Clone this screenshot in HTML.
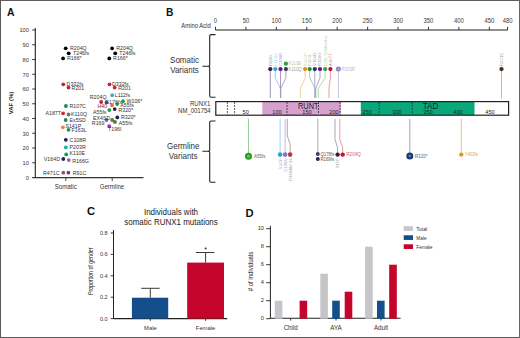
<!DOCTYPE html>
<html><head><meta charset="utf-8"><style>
html,body{margin:0;padding:0;background:#fff;}
svg{display:block;font-family:"Liberation Sans",sans-serif;}
</style></head><body>
<svg width="520" height="338" viewBox="0 0 520 338">
<rect width="520" height="338" fill="#fff"/>
<text x="7" y="15.8" font-size="10.4" text-anchor="start" fill="#111" font-weight="bold" >A</text>
<line x1="35.3" y1="28" x2="35.3" y2="177.6" stroke="#222" stroke-width="1.1" />
<line x1="32.2" y1="177.5" x2="35.3" y2="177.5" stroke="#222" stroke-width="0.9" />
<text transform="translate(28.9,179.8) scale(0.9346,1)" font-size="6.10" text-anchor="end" fill="#333" font-weight="normal" >0</text>
<line x1="32.2" y1="162.75" x2="35.3" y2="162.75" stroke="#222" stroke-width="0.9" />
<text transform="translate(28.9,165.05) scale(0.9346,1)" font-size="6.10" text-anchor="end" fill="#333" font-weight="normal" >10</text>
<line x1="32.2" y1="148.0" x2="35.3" y2="148.0" stroke="#222" stroke-width="0.9" />
<text transform="translate(28.9,150.3) scale(0.9346,1)" font-size="6.10" text-anchor="end" fill="#333" font-weight="normal" >20</text>
<line x1="32.2" y1="133.25" x2="35.3" y2="133.25" stroke="#222" stroke-width="0.9" />
<text transform="translate(28.9,135.55) scale(0.9346,1)" font-size="6.10" text-anchor="end" fill="#333" font-weight="normal" >30</text>
<line x1="32.2" y1="118.5" x2="35.3" y2="118.5" stroke="#222" stroke-width="0.9" />
<text transform="translate(28.9,120.8) scale(0.9346,1)" font-size="6.10" text-anchor="end" fill="#333" font-weight="normal" >40</text>
<line x1="32.2" y1="103.75" x2="35.3" y2="103.75" stroke="#222" stroke-width="0.9" />
<text transform="translate(28.9,106.05) scale(0.9346,1)" font-size="6.10" text-anchor="end" fill="#333" font-weight="normal" >50</text>
<line x1="32.2" y1="89.0" x2="35.3" y2="89.0" stroke="#222" stroke-width="0.9" />
<text transform="translate(28.9,91.3) scale(0.9346,1)" font-size="6.10" text-anchor="end" fill="#333" font-weight="normal" >60</text>
<line x1="32.2" y1="74.25" x2="35.3" y2="74.25" stroke="#222" stroke-width="0.9" />
<text transform="translate(28.9,76.55) scale(0.9346,1)" font-size="6.10" text-anchor="end" fill="#333" font-weight="normal" >70</text>
<line x1="32.2" y1="59.5" x2="35.3" y2="59.5" stroke="#222" stroke-width="0.9" />
<text transform="translate(28.9,61.8) scale(0.9346,1)" font-size="6.10" text-anchor="end" fill="#333" font-weight="normal" >80</text>
<line x1="32.2" y1="44.75" x2="35.3" y2="44.75" stroke="#222" stroke-width="0.9" />
<text transform="translate(28.9,47.05) scale(0.9346,1)" font-size="6.10" text-anchor="end" fill="#333" font-weight="normal" >90</text>
<line x1="32.2" y1="30.0" x2="35.3" y2="30.0" stroke="#222" stroke-width="0.9" />
<text transform="translate(28.9,32.3) scale(0.9346,1)" font-size="6.10" text-anchor="end" fill="#333" font-weight="normal" >100</text>
<line x1="32.6" y1="177.6" x2="143.5" y2="177.6" stroke="#333" stroke-width="1.3" />
<line x1="65.8" y1="177.6" x2="65.8" y2="181" stroke="#333" stroke-width="0.9" />
<line x1="112.2" y1="177.6" x2="112.2" y2="181" stroke="#333" stroke-width="0.9" />
<text transform="translate(65.7,189.4) scale(0.9346,1)" font-size="6.53" text-anchor="middle" fill="#333" font-weight="normal" >Somatic</text>
<text transform="translate(112,189.4) scale(0.9346,1)" font-size="6.42" text-anchor="middle" fill="#333" font-weight="normal" >Germline</text>
<text transform="translate(13.4,103) rotate(-90)" font-size="6" font-weight="bold" text-anchor="middle" fill="#222">VAF (%)</text>
<circle cx="65.7" cy="48.3" r="1.9" fill="#000" />
<circle cx="68.7" cy="53.3" r="1.9" fill="#000" />
<circle cx="63.1" cy="58.4" r="1.9" fill="#000" />
<circle cx="63.3" cy="84.3" r="1.9" fill="#c4203c" />
<circle cx="68.5" cy="87.6" r="1.9" fill="#c4203c" />
<circle cx="65.9" cy="106" r="1.9" fill="#1a8a5a" />
<circle cx="63.1" cy="113.3" r="1.9" fill="#d02830" />
<circle cx="68.5" cy="114.5" r="1.9" fill="#707078" />
<circle cx="65.7" cy="120" r="1.9" fill="#1a8a4a" />
<circle cx="62.9" cy="127.3" r="1.9" fill="#e0804a" />
<circle cx="68.5" cy="129.8" r="1.9" fill="#1a9a4a" />
<circle cx="65.8" cy="139.8" r="1.9" fill="#2a1a5a" />
<circle cx="65.8" cy="147.4" r="1.9" fill="#20b0b0" />
<circle cx="66.2" cy="154.4" r="1.9" fill="#1a9a3a" />
<circle cx="63.3" cy="159" r="1.9" fill="#2a2060" />
<circle cx="68.8" cy="160.1" r="1.9" fill="#8a6aa0" />
<circle cx="63.3" cy="172.7" r="1.9" fill="#806060" />
<circle cx="68.4" cy="172.7" r="1.9" fill="#704080" />
<circle cx="112.1" cy="48.3" r="1.9" fill="#000" />
<circle cx="115.2" cy="53.3" r="1.9" fill="#000" />
<circle cx="109.3" cy="58.4" r="1.9" fill="#000" />
<circle cx="109.5" cy="84.3" r="1.9" fill="#c4203c" />
<circle cx="114.7" cy="87.6" r="1.9" fill="#c4203c" />
<circle cx="112.2" cy="95.2" r="1.9" fill="#30b0c0" />
<circle cx="101.2" cy="102" r="1.9" fill="#c4203c" />
<circle cx="106.5" cy="102.4" r="1.9" fill="#505068" />
<circle cx="123" cy="101.2" r="1.9" fill="#1a9a5a" />
<circle cx="117.2" cy="104.1" r="1.9" fill="#1a9a4a" />
<circle cx="112" cy="105.2" r="1.9" fill="#e0704a" />
<circle cx="114.7" cy="109.1" r="1.9" fill="#2a1a5a" />
<circle cx="109.3" cy="110.1" r="1.9" fill="#1a9a4a" />
<circle cx="117.3" cy="117.4" r="1.9" fill="#2a1a5a" />
<circle cx="106.5" cy="120" r="1.9" fill="#707078" />
<circle cx="112.2" cy="120" r="1.9" fill="#7a6a3a" />
<circle cx="114.9" cy="121.9" r="1.9" fill="#2a8a3a" />
<circle cx="109.2" cy="126.2" r="1.9" fill="#9a3a9a" />
<text transform="translate(70,50.199999999999996) scale(0.9346,1)" font-size="5.67" text-anchor="start" fill="#333" font-weight="normal" >R204Q</text>
<text transform="translate(73,55.199999999999996) scale(0.9346,1)" font-size="5.67" text-anchor="start" fill="#333" font-weight="normal" >T246fs</text>
<text transform="translate(67,60.3) scale(0.9346,1)" font-size="5.67" text-anchor="start" fill="#333" font-weight="normal" >R166*</text>
<text transform="translate(66.6,86.2) scale(0.9346,1)" font-size="5.67" text-anchor="start" fill="#333" font-weight="normal" >D332fs</text>
<text transform="translate(71.6,89.5) scale(0.9346,1)" font-size="5.67" text-anchor="start" fill="#333" font-weight="normal" >R201</text>
<text transform="translate(69.5,107.9) scale(0.9346,1)" font-size="5.67" text-anchor="start" fill="#333" font-weight="normal" >R107C</text>
<text transform="translate(61,115.2) scale(0.9346,1)" font-size="5.67" text-anchor="end" fill="#333" font-weight="normal" >A187T</text>
<text transform="translate(71,116.4) scale(0.9346,1)" font-size="5.67" text-anchor="start" fill="#333" font-weight="normal" >K110Q</text>
<text transform="translate(69.5,121.9) scale(0.9346,1)" font-size="5.67" text-anchor="start" fill="#333" font-weight="normal" >Ex5SD</text>
<text transform="translate(65.4,127.6) scale(0.9346,1)" font-size="5.67" text-anchor="start" fill="#333" font-weight="normal" >S141P</text>
<text transform="translate(71.6,131.70000000000002) scale(0.9346,1)" font-size="5.67" text-anchor="start" fill="#333" font-weight="normal" >F163L</text>
<text transform="translate(69.6,141.70000000000002) scale(0.9346,1)" font-size="5.67" text-anchor="start" fill="#333" font-weight="normal" >C108R</text>
<text transform="translate(69.6,149.3) scale(0.9346,1)" font-size="5.67" text-anchor="start" fill="#333" font-weight="normal" >P203R</text>
<text transform="translate(69.6,154.70000000000002) scale(0.9346,1)" font-size="5.67" text-anchor="start" fill="#333" font-weight="normal" >K110E</text>
<text transform="translate(60,160.9) scale(0.9346,1)" font-size="5.67" text-anchor="end" fill="#333" font-weight="normal" >V164D</text>
<text transform="translate(72.2,163.4) scale(0.9346,1)" font-size="5.67" text-anchor="start" fill="#333" font-weight="normal" >R166G</text>
<text transform="translate(59.5,174.6) scale(0.9346,1)" font-size="5.67" text-anchor="end" fill="#333" font-weight="normal" >R471C</text>
<text transform="translate(72.8,174.6) scale(0.9346,1)" font-size="5.67" text-anchor="start" fill="#333" font-weight="normal" >R91C</text>
<text transform="translate(116.2,50.199999999999996) scale(0.9346,1)" font-size="5.67" text-anchor="start" fill="#333" font-weight="normal" >R204Q</text>
<text transform="translate(119.3,55.199999999999996) scale(0.9346,1)" font-size="5.67" text-anchor="start" fill="#333" font-weight="normal" >T246fs</text>
<text transform="translate(113.1,60.3) scale(0.9346,1)" font-size="5.67" text-anchor="start" fill="#333" font-weight="normal" >R166*</text>
<text transform="translate(112,86.2) scale(0.9346,1)" font-size="5.67" text-anchor="start" fill="#333" font-weight="normal" >D332fs</text>
<text transform="translate(118.3,89.5) scale(0.9346,1)" font-size="5.67" text-anchor="start" fill="#333" font-weight="normal" >R201</text>
<text transform="translate(114.7,97.10000000000001) scale(0.9346,1)" font-size="5.67" text-anchor="start" fill="#333" font-weight="normal" >L112fs</text>
<text transform="translate(126.5,103.10000000000001) scale(0.9346,1)" font-size="5.67" text-anchor="start" fill="#333" font-weight="normal" >W106*</text>
<text transform="translate(120.3,107.39999999999999) scale(0.9346,1)" font-size="5.67" text-anchor="start" fill="#333" font-weight="normal" >A55fs</text>
<text transform="translate(118.4,112.39999999999999) scale(0.9346,1)" font-size="5.67" text-anchor="start" fill="#333" font-weight="normal" >R320*</text>
<text transform="translate(121,119.30000000000001) scale(0.9346,1)" font-size="5.67" text-anchor="start" fill="#333" font-weight="normal" >R320*</text>
<text transform="translate(118.8,125.2) scale(0.9346,1)" font-size="5.67" text-anchor="start" fill="#333" font-weight="normal" >A55fs</text>
<text transform="translate(106.5,99) scale(0.9346,1)" font-size="5.67" text-anchor="end" fill="#333" font-weight="normal" >R204Q</text>
<text transform="translate(105,103.6) scale(0.9346,1)" font-size="5.67" text-anchor="start" fill="#4a3a6a" font-weight="normal" >G178fs</text>
<text transform="translate(97.4,108) scale(0.9346,1)" font-size="5.67" text-anchor="start" fill="#7a2a4a" font-weight="normal" >H40</text>
<text transform="translate(106.5,113.6) scale(0.9346,1)" font-size="5.67" text-anchor="end" fill="#333" font-weight="normal" >A55fs</text>
<text transform="translate(110.3,119.5) scale(0.9346,1)" font-size="5.67" text-anchor="end" fill="#333" font-weight="normal" >EX4SD</text>
<text transform="translate(104.5,124.5) scale(0.9346,1)" font-size="5.67" text-anchor="end" fill="#333" font-weight="normal" >R169</text>
<text transform="translate(108,131.4) scale(0.9346,1)" font-size="5.67" text-anchor="start" fill="#333" font-weight="normal" >T196I</text>
<text x="166" y="16" font-size="10.2" text-anchor="start" fill="#111" font-weight="bold" >B</text>
<text transform="translate(210.8,27.6) scale(0.9346,1)" font-size="6.31" text-anchor="end" fill="#333" font-weight="normal" >Amino Acid</text>
<line x1="215.5" y1="30" x2="507.8" y2="30" stroke="#222" stroke-width="1.1" />
<line x1="215.5" y1="26.8" x2="215.5" y2="30" stroke="#222" stroke-width="0.9" />
<text transform="translate(215.5,22.8) scale(0.9346,1)" font-size="6.31" text-anchor="middle" fill="#3a3a3a" font-weight="normal" >0</text>
<line x1="245.925" y1="26.8" x2="245.925" y2="30" stroke="#222" stroke-width="0.9" />
<text transform="translate(245.925,22.8) scale(0.9346,1)" font-size="6.31" text-anchor="middle" fill="#3a3a3a" font-weight="normal" >50</text>
<line x1="276.35" y1="26.8" x2="276.35" y2="30" stroke="#222" stroke-width="0.9" />
<text transform="translate(276.35,22.8) scale(0.9346,1)" font-size="6.31" text-anchor="middle" fill="#3a3a3a" font-weight="normal" >100</text>
<line x1="306.775" y1="26.8" x2="306.775" y2="30" stroke="#222" stroke-width="0.9" />
<text transform="translate(306.775,22.8) scale(0.9346,1)" font-size="6.31" text-anchor="middle" fill="#3a3a3a" font-weight="normal" >150</text>
<line x1="337.2" y1="26.8" x2="337.2" y2="30" stroke="#222" stroke-width="0.9" />
<text transform="translate(337.2,22.8) scale(0.9346,1)" font-size="6.31" text-anchor="middle" fill="#3a3a3a" font-weight="normal" >200</text>
<line x1="367.625" y1="26.8" x2="367.625" y2="30" stroke="#222" stroke-width="0.9" />
<text transform="translate(367.625,22.8) scale(0.9346,1)" font-size="6.31" text-anchor="middle" fill="#3a3a3a" font-weight="normal" >250</text>
<line x1="398.05" y1="26.8" x2="398.05" y2="30" stroke="#222" stroke-width="0.9" />
<text transform="translate(398.05,22.8) scale(0.9346,1)" font-size="6.31" text-anchor="middle" fill="#3a3a3a" font-weight="normal" >300</text>
<line x1="428.475" y1="26.8" x2="428.475" y2="30" stroke="#222" stroke-width="0.9" />
<text transform="translate(428.475,22.8) scale(0.9346,1)" font-size="6.31" text-anchor="middle" fill="#3a3a3a" font-weight="normal" >350</text>
<line x1="458.9" y1="26.8" x2="458.9" y2="30" stroke="#222" stroke-width="0.9" />
<text transform="translate(458.9,22.8) scale(0.9346,1)" font-size="6.31" text-anchor="middle" fill="#3a3a3a" font-weight="normal" >400</text>
<line x1="489.32500000000005" y1="26.8" x2="489.32500000000005" y2="30" stroke="#222" stroke-width="0.9" />
<text transform="translate(489.32500000000005,22.8) scale(0.9346,1)" font-size="6.31" text-anchor="middle" fill="#3a3a3a" font-weight="normal" >450</text>
<line x1="507.58000000000004" y1="26.8" x2="507.58000000000004" y2="30" stroke="#222" stroke-width="0.9" />
<text transform="translate(507.58000000000004,22.8) scale(0.9346,1)" font-size="6.31" text-anchor="middle" fill="#3a3a3a" font-weight="normal" >480</text>
<path d="M215.5,34.6 H211.2 Q209.7,34.6 209.7,36.1 V65.2 Q209.7,66.2 208.2,66.2 H202.4 M208.2,66.2 Q209.7,66.2 209.7,67.2 V95.8 Q209.7,97.3 211.2,97.3 H215.5" fill="none" stroke="#222" stroke-width="1.1"/>
<path d="M215.5,121 H211.2 Q209.7,121 209.7,122.5 V150.3 Q209.7,151.3 208.2,151.3 H202.4 M208.2,151.3 Q209.7,151.3 209.7,152.3 V180.8 Q209.7,182.3 211.2,182.3 H215.5" fill="none" stroke="#222" stroke-width="1.1"/>
<text transform="translate(184.5,63.3) scale(0.9346,1)" font-size="8.56" text-anchor="middle" fill="#333" font-weight="normal" >Somatic</text>
<text transform="translate(184.5,73.0) scale(0.9346,1)" font-size="8.56" text-anchor="middle" fill="#333" font-weight="normal" >Variants</text>
<text transform="translate(183.2,149) scale(0.9346,1)" font-size="8.56" text-anchor="middle" fill="#333" font-weight="normal" >Germline</text>
<text transform="translate(183.2,159.1) scale(0.9346,1)" font-size="8.56" text-anchor="middle" fill="#333" font-weight="normal" >Variants</text>
<text transform="translate(210.3,105.8) scale(0.9346,1)" font-size="6.42" text-anchor="end" fill="#333" font-weight="normal" >RUNX1</text>
<text transform="translate(210.7,113.2) scale(0.9346,1)" font-size="6.42" text-anchor="end" fill="#333" font-weight="normal" >NM_001754</text>
<rect x="262.3" y="101.6" width="78.5" height="13.6" fill="#d6a1cf" />
<rect x="360.8" y="101.6" width="113.7" height="13.6" fill="#08a87b" />
<rect x="215.8" y="101.6" width="292.8" height="13.6" fill="none" stroke="#222" stroke-width="1.2"/>
<text transform="translate(245.7,114.2) scale(0.9346,1)" font-size="5.99" text-anchor="middle" fill="#222" font-weight="normal" >50</text>
<text transform="translate(277,114.2) scale(0.9346,1)" font-size="5.99" text-anchor="middle" fill="#222" font-weight="normal" >100</text>
<text transform="translate(307,114.2) scale(0.9346,1)" font-size="5.99" text-anchor="middle" fill="#222" font-weight="normal" >150</text>
<text transform="translate(334,114.2) scale(0.9346,1)" font-size="5.99" text-anchor="middle" fill="#222" font-weight="normal" >200</text>
<text transform="translate(367,114.2) scale(0.9346,1)" font-size="5.99" text-anchor="middle" fill="#222" font-weight="normal" >250</text>
<text transform="translate(397,114.2) scale(0.9346,1)" font-size="5.99" text-anchor="middle" fill="#222" font-weight="normal" >300</text>
<text transform="translate(428,114.2) scale(0.9346,1)" font-size="5.99" text-anchor="middle" fill="#222" font-weight="normal" >350</text>
<text transform="translate(458,114.2) scale(0.9346,1)" font-size="5.99" text-anchor="middle" fill="#222" font-weight="normal" >400</text>
<text transform="translate(490,114.2) scale(0.9346,1)" font-size="5.99" text-anchor="middle" fill="#222" font-weight="normal" >450</text>
<text transform="translate(298,108.7) scale(0.9346,1)" font-size="8.77" text-anchor="start" fill="#221a2a" font-weight="normal" textLength="22" lengthAdjust="spacingAndGlyphs">RUNT</text>
<text transform="translate(422.7,108.7) scale(0.9346,1)" font-size="8.77" text-anchor="start" fill="#112a22" font-weight="normal" >TAD</text>
<rect x="317.6" y="102.3" width="2.0" height="12.4" fill="#d6a1cf" />
<line x1="227.4" y1="102.2" x2="227.4" y2="114.6" stroke="#222" stroke-width="0.9" stroke-dasharray="1.6,1.4"/>
<line x1="234.6" y1="102.2" x2="234.6" y2="114.6" stroke="#222" stroke-width="0.9" stroke-dasharray="1.6,1.4"/>
<line x1="287" y1="102.2" x2="287" y2="114.6" stroke="#222" stroke-width="0.9" stroke-dasharray="1.6,1.4"/>
<line x1="318.5" y1="102.2" x2="318.5" y2="114.6" stroke="#222" stroke-width="0.9" stroke-dasharray="1.6,1.4"/>
<line x1="340" y1="102.2" x2="340" y2="114.6" stroke="#222" stroke-width="0.9" stroke-dasharray="1.6,1.4"/>
<line x1="379.2" y1="102.2" x2="379.2" y2="114.6" stroke="#222" stroke-width="0.9" stroke-dasharray="1.6,1.4"/>
<line x1="412.2" y1="102.2" x2="412.2" y2="114.6" stroke="#222" stroke-width="0.9" stroke-dasharray="1.6,1.4"/>
<polyline points="270.3,69.1 270.3,98" fill="none" stroke="#9a88b0" stroke-width="0.9"/>
<polyline points="275.3,69.1 275.3,77.8 280.4,88.4 280.4,98" fill="none" stroke="#9ac0e0" stroke-width="0.9"/>
<polyline points="280.5,69.1 280.5,98" fill="none" stroke="#a890c0" stroke-width="0.9"/>
<polyline points="285.9,69.1 285.9,77.8 280.8,88.4 280.8,98" fill="none" stroke="#9aa0b0" stroke-width="0.9"/>
<polyline points="305.1,69.1 305.1,78.5 300.3,88.3 300.3,98" fill="none" stroke="#f0c890" stroke-width="0.9"/>
<polyline points="309.7,69.1 309.7,78 315.2,88.3 315.2,98" fill="none" stroke="#a0c8a0" stroke-width="0.9"/>
<polyline points="314.8,69.1 314.8,98" fill="none" stroke="#90a8c8" stroke-width="0.9"/>
<polyline points="320,69.1 320,78 315.8,88.3 315.8,98" fill="none" stroke="#b098c8" stroke-width="0.9"/>
<polyline points="325.2,69.1 325.2,78 318.3,88.3 318.3,98" fill="none" stroke="#a8d8a0" stroke-width="0.9"/>
<polyline points="330.4,69.1 330.4,78 329,88.3 329,98" fill="none" stroke="#e89098" stroke-width="0.9"/>
<polyline points="338.4,69.1 338.4,98" fill="none" stroke="#b8b8d8" stroke-width="0.9"/>
<polyline points="501.5,69.1 501.5,98.5" fill="none" stroke="#c0b0a0" stroke-width="0.9"/>
<circle cx="270.3" cy="69.1" r="2.15" fill="#3a1a4a" />
<text transform="translate(271.7,65.89999999999999) rotate(-90)" font-size="4.3" fill="#3a1a4a" fill-opacity="0.55">R80C</text>
<circle cx="275.3" cy="69.1" r="2.15" fill="#30a8e0" />
<text transform="translate(276.7,65.89999999999999) rotate(-90)" font-size="4.3" fill="#30a8e0" fill-opacity="0.55">L112fs</text>
<circle cx="280.5" cy="69.1" r="2.15" fill="#5a1a8a" />
<text transform="translate(281.9,65.89999999999999) rotate(-90)" font-size="4.3" fill="#5a1a8a" fill-opacity="0.55">C108R</text>
<circle cx="285.9" cy="69.1" r="2.15" fill="#3a4050" />
<circle cx="305.1" cy="69.1" r="2.15" fill="#e09020" />
<text transform="translate(306.5,65.89999999999999) rotate(-90)" font-size="4.3" fill="#e09020" fill-opacity="0.55">S141P</text>
<circle cx="309.7" cy="69.1" r="2.15" fill="#3a8a30" />
<text transform="translate(311.09999999999997,65.89999999999999) rotate(-90)" font-size="4.3" fill="#3a8a30" fill-opacity="0.55">F163L</text>
<circle cx="314.8" cy="69.1" r="2.15" fill="#1a3a70" />
<text transform="translate(316.2,65.89999999999999) rotate(-90)" font-size="4.3" fill="#1a3a70" fill-opacity="0.55">V164D</text>
<circle cx="320" cy="69.1" r="2.15" fill="#5a2080" />
<text transform="translate(321.4,65.89999999999999) rotate(-90)" font-size="4.3" fill="#5a2080" fill-opacity="0.55">R166G</text>
<circle cx="325.2" cy="69.1" r="2.15" fill="#3aa040" />
<text transform="translate(326.59999999999997,65.89999999999999) rotate(-90)" font-size="4.3" fill="#3aa040" fill-opacity="0.55" textLength="30.5" lengthAdjust="spacingAndGlyphs">L200_S294del4aa</text>
<circle cx="330.4" cy="69.1" r="2.15" fill="#c01030" />
<text transform="translate(331.79999999999995,65.89999999999999) rotate(-90)" font-size="4.3" fill="#c01030" fill-opacity="0.55">A187T</text>
<circle cx="338.4" cy="69.1" r="2.15" fill="#8a8ab8" />
<circle cx="501.5" cy="69.1" r="2.15" fill="#4a2a10" />
<text transform="translate(502.9,65.89999999999999) rotate(-90)" font-size="4.3" fill="#4a2a10" fill-opacity="0.55">R471C</text>
<circle cx="285.9" cy="63.7" r="2.15" fill="#30a040" />
<text transform="translate(288.6,65.3) scale(0.9346,1)" font-size="4.60" text-anchor="start" fill="#a8d0a8" font-weight="normal" >K110E</text>
<text transform="translate(288.6,70.7) scale(0.9346,1)" font-size="4.60" text-anchor="start" fill="#a0a0b0" font-weight="normal" >K110Q</text>
<text transform="translate(341.8,70.7) scale(0.9346,1)" font-size="4.60" text-anchor="start" fill="#b8b8d8" font-weight="normal" >P203R</text>
<polyline points="248.5,118.8 248.5,156.2" fill="none" stroke="#8ac88a" stroke-width="0.9"/>
<polyline points="280.1,118.8 280.1,154.6" fill="none" stroke="#9ac8e8" stroke-width="0.9"/>
<polyline points="285.1,118.8 285.1,154.6" fill="none" stroke="#c0b0e0" stroke-width="0.9"/>
<polyline points="287.3,118.8 287.3,136 290.1,143.8 290.1,154.6" fill="none" stroke="#c89098" stroke-width="0.9"/>
<polyline points="317.8,118.8 317.8,153.9" fill="none" stroke="#a0a0b8" stroke-width="0.9"/>
<polyline points="335,118.8 335,139.5 337.6,147.7 337.6,154.6" fill="none" stroke="#a898b0" stroke-width="0.9"/>
<polyline points="339.8,118.8 339.8,139.5 342.7,147.7 342.7,154.6" fill="none" stroke="#e89098" stroke-width="0.9"/>
<polyline points="409.8,118.8 409.8,155.9" fill="none" stroke="#90a0b8" stroke-width="0.9"/>
<polyline points="461.3,118.8 461.3,154.5" fill="none" stroke="#e8c070" stroke-width="0.9"/>
<circle cx="248.5" cy="156.2" r="3.5" fill="#259a25" />
<circle cx="280.1" cy="154.6" r="2.3" fill="#30a0d0" />
<circle cx="285.1" cy="154.6" r="2.3" fill="#9070c0" />
<circle cx="290.1" cy="154.6" r="2.3" fill="#a04050" />
<circle cx="317.8" cy="153.9" r="2.0" fill="#404060" />
<circle cx="337.6" cy="154.6" r="2.2" fill="#3a1a4a" />
<circle cx="342.7" cy="154.6" r="2.2" fill="#c81030" />
<circle cx="409.8" cy="155.9" r="3.5" fill="#1a3a70" />
<circle cx="461.3" cy="154.6" r="2.2" fill="#d8982a" />
<circle cx="317.8" cy="159.1" r="2.0" fill="#3a1a5a" />
<circle cx="338.4" cy="69.1" r="2.5" fill="#8a8ab8" />
<circle cx="338.4" cy="69.1" r="1.2" fill="#a8a8d0" />
<circle cx="248.5" cy="156.2" r="1.7" fill="#55c055" />
<circle cx="409.8" cy="155.9" r="1.2" fill="#6080b0" />
<text transform="translate(253.9,157.9) scale(0.9346,1)" font-size="4.82" text-anchor="start" fill="#5a6a5a" font-weight="normal" >A55fs</text>
<text transform="translate(320.5,155.5) scale(0.9346,1)" font-size="4.60" text-anchor="start" fill="#555" font-weight="normal" >Q178fs</text>
<text transform="translate(320.5,160.7) scale(0.9346,1)" font-size="4.60" text-anchor="start" fill="#555" font-weight="normal" >R169fs</text>
<text transform="translate(346.3,156.3) scale(0.9346,1)" font-size="4.92" text-anchor="start" fill="#d06070" font-weight="normal" >R204Q</text>
<text transform="translate(414.8,157.6) scale(0.9346,1)" font-size="4.92" text-anchor="start" fill="#5a6a8a" font-weight="normal" >R320*</text>
<text transform="translate(464.6,156.2) scale(0.9346,1)" font-size="4.60" text-anchor="start" fill="#d8a850" font-weight="normal" >Y403fs</text>
<text transform="translate(281.5,158.3) rotate(-90)" font-size="4.3" text-anchor="end" fill="#98b0c8" textLength="11" lengthAdjust="spacingAndGlyphs">S141P</text>
<text transform="translate(286.5,158.3) rotate(-90)" font-size="4.3" text-anchor="end" fill="#b0a8c8" textLength="13.5" lengthAdjust="spacingAndGlyphs">C108fs</text>
<text transform="translate(291.5,158.3) rotate(-90)" font-size="4.3" text-anchor="end" fill="#c09898" textLength="22.5" lengthAdjust="spacingAndGlyphs">R166Afs*13</text>
<text transform="translate(339.0,158.3) rotate(-90)" font-size="4.3" text-anchor="end" fill="#a090a8" textLength="9.5" lengthAdjust="spacingAndGlyphs">R177*</text>
<text x="86.9" y="214.9" font-size="11.2" text-anchor="start" fill="#111" font-weight="bold" >C</text>
<text transform="translate(171,215.2) scale(0.9346,1)" font-size="8.56" text-anchor="middle" fill="#222" font-weight="normal" >Individuals with</text>
<text transform="translate(171,225.2) scale(0.9346,1)" font-size="8.56" text-anchor="middle" fill="#222" font-weight="normal" >somatic RUNX1 mutations</text>
<line x1="113.5" y1="230.1" x2="113.5" y2="318.6" stroke="#222" stroke-width="1.0" />
<line x1="110.7" y1="318.6" x2="113.5" y2="318.6" stroke="#222" stroke-width="0.9" />
<text transform="translate(107.6,320.5) scale(0.9346,1)" font-size="5.89" text-anchor="end" fill="#333" font-weight="normal" >0.0</text>
<line x1="110.7" y1="297.20000000000005" x2="113.5" y2="297.20000000000005" stroke="#222" stroke-width="0.9" />
<text transform="translate(107.6,299.1) scale(0.9346,1)" font-size="5.89" text-anchor="end" fill="#333" font-weight="normal" >0.2</text>
<line x1="110.7" y1="275.8" x2="113.5" y2="275.8" stroke="#222" stroke-width="0.9" />
<text transform="translate(107.6,277.7) scale(0.9346,1)" font-size="5.89" text-anchor="end" fill="#333" font-weight="normal" >0.4</text>
<line x1="110.7" y1="254.40000000000003" x2="113.5" y2="254.40000000000003" stroke="#222" stroke-width="0.9" />
<text transform="translate(107.6,256.3) scale(0.9346,1)" font-size="5.89" text-anchor="end" fill="#333" font-weight="normal" >0.6</text>
<line x1="110.7" y1="233.0" x2="113.5" y2="233.0" stroke="#222" stroke-width="0.9" />
<text transform="translate(107.6,234.9) scale(0.9346,1)" font-size="5.89" text-anchor="end" fill="#333" font-weight="normal" >0.8</text>
<line x1="113.5" y1="318.6" x2="227.2" y2="318.6" stroke="#222" stroke-width="1.1" />
<rect x="131.9" y="297.7" width="36.3" height="20.9" fill="#134f8a" />
<rect x="187.2" y="262.6" width="36.8" height="56" fill="#c4042a" />
<line x1="150.3" y1="297.7" x2="150.3" y2="288.3" stroke="#3a3a3a" stroke-width="1" />
<line x1="141.2" y1="288.3" x2="159.6" y2="288.3" stroke="#3a3a3a" stroke-width="1" />
<line x1="205.6" y1="262.6" x2="205.6" y2="252.5" stroke="#3a3a3a" stroke-width="1" />
<line x1="195.8" y1="252.5" x2="214.4" y2="252.5" stroke="#3a3a3a" stroke-width="1" />
<text transform="translate(205.5,251.6) scale(0.9346,1)" font-size="7.49" text-anchor="middle" fill="#111" font-weight="normal" >*</text>
<line x1="150.3" y1="318.6" x2="150.3" y2="320.8" stroke="#222" stroke-width="0.9" />
<line x1="205.6" y1="318.6" x2="205.6" y2="320.8" stroke="#222" stroke-width="0.9" />
<text transform="translate(150.4,330) scale(0.9346,1)" font-size="6.21" text-anchor="middle" fill="#333" font-weight="normal" >Male</text>
<text transform="translate(205.5,330) scale(0.9346,1)" font-size="6.21" text-anchor="middle" fill="#333" font-weight="normal" >Female</text>
<text transform="translate(92.6,271.3) rotate(-90)" font-size="6.4" text-anchor="middle" fill="#222" textLength="47.5" lengthAdjust="spacingAndGlyphs">Proportion of gender</text>
<text x="245.6" y="216.9" font-size="11.2" text-anchor="start" fill="#111" font-weight="bold" >D</text>
<line x1="270.4" y1="225.8" x2="270.4" y2="318.7" stroke="#222" stroke-width="1.0" />
<line x1="266.2" y1="318.7" x2="270.4" y2="318.7" stroke="#222" stroke-width="0.9" />
<text transform="translate(264,320.09999999999997) scale(0.9346,1)" font-size="6.10" text-anchor="end" fill="#333" font-weight="normal" >0</text>
<line x1="266.2" y1="300.7" x2="270.4" y2="300.7" stroke="#222" stroke-width="0.9" />
<text transform="translate(264,302.09999999999997) scale(0.9346,1)" font-size="6.10" text-anchor="end" fill="#333" font-weight="normal" >2</text>
<line x1="266.2" y1="282.7" x2="270.4" y2="282.7" stroke="#222" stroke-width="0.9" />
<text transform="translate(264,284.09999999999997) scale(0.9346,1)" font-size="6.10" text-anchor="end" fill="#333" font-weight="normal" >4</text>
<line x1="266.2" y1="264.7" x2="270.4" y2="264.7" stroke="#222" stroke-width="0.9" />
<text transform="translate(264,266.09999999999997) scale(0.9346,1)" font-size="6.10" text-anchor="end" fill="#333" font-weight="normal" >6</text>
<line x1="266.2" y1="246.7" x2="270.4" y2="246.7" stroke="#222" stroke-width="0.9" />
<text transform="translate(264,248.1) scale(0.9346,1)" font-size="6.10" text-anchor="end" fill="#333" font-weight="normal" >8</text>
<line x1="266.2" y1="228.7" x2="270.4" y2="228.7" stroke="#222" stroke-width="0.9" />
<text transform="translate(264,230.1) scale(0.9346,1)" font-size="6.10" text-anchor="end" fill="#333" font-weight="normal" >10</text>
<line x1="270.4" y1="318.3" x2="400.6" y2="318.3" stroke="#222" stroke-width="1.1" />
<rect x="274.8" y="300.7" width="7.6" height="18.0" fill="#c6c6ca" />
<rect x="299.6" y="300.7" width="7.6" height="18.0" fill="#c4042a" />
<rect x="320.3" y="273.7" width="7.6" height="45.0" fill="#c6c6ca" />
<rect x="332.2" y="300.7" width="7.6" height="18.0" fill="#134f8a" />
<rect x="344.7" y="291.7" width="7.6" height="27.0" fill="#c4042a" />
<rect x="365.1" y="246.7" width="7.6" height="72.0" fill="#c6c6ca" />
<rect x="377" y="300.7" width="7.6" height="18.0" fill="#134f8a" />
<rect x="389.2" y="264.7" width="7.6" height="54.0" fill="#c4042a" />
<line x1="290.7" y1="318.3" x2="290.7" y2="320.5" stroke="#222" stroke-width="0.9" />
<line x1="336" y1="318.3" x2="336" y2="320.5" stroke="#222" stroke-width="0.9" />
<line x1="381" y1="318.3" x2="381" y2="320.5" stroke="#222" stroke-width="0.9" />
<text transform="translate(290.7,330.1) scale(0.9346,1)" font-size="6.63" text-anchor="middle" fill="#333" font-weight="normal" >Child</text>
<text transform="translate(336,330.1) scale(0.9346,1)" font-size="6.63" text-anchor="middle" fill="#333" font-weight="normal" >AYA</text>
<text transform="translate(381,330.1) scale(0.9346,1)" font-size="6.63" text-anchor="middle" fill="#333" font-weight="normal" >Adult</text>
<text transform="translate(252.6,271.5) rotate(-90)" font-size="6.6" text-anchor="middle" fill="#222" textLength="39.5" lengthAdjust="spacingAndGlyphs"># of individuals</text>
<rect x="403.7" y="226.2" width="9.3" height="4.7" fill="#c6c6ca" />
<text transform="translate(416.3,230.6) scale(0.9346,1)" font-size="6.21" text-anchor="start" fill="#333" font-weight="normal" textLength="11.66" lengthAdjust="spacingAndGlyphs">Total</text>
<rect x="403.7" y="235.25" width="9.3" height="4.7" fill="#134f8a" />
<text transform="translate(416.3,239.65) scale(0.9346,1)" font-size="6.21" text-anchor="start" fill="#333" font-weight="normal" textLength="11.13" lengthAdjust="spacingAndGlyphs">Male</text>
<rect x="403.7" y="244.29999999999998" width="9.3" height="4.7" fill="#c4042a" />
<text transform="translate(416.3,248.7) scale(0.9346,1)" font-size="6.21" text-anchor="start" fill="#333" font-weight="normal" textLength="17.12" lengthAdjust="spacingAndGlyphs">Female</text>
<rect x="0" y="0" width="520" height="1" fill="#5e5e5e" />
<rect x="0" y="337" width="520" height="1" fill="#5a5a5a" />
<rect x="0" y="0" width="1" height="338" fill="#5a5a5a" />
<rect x="519" y="0" width="1" height="338" fill="#666" />
</svg>
</body></html>
